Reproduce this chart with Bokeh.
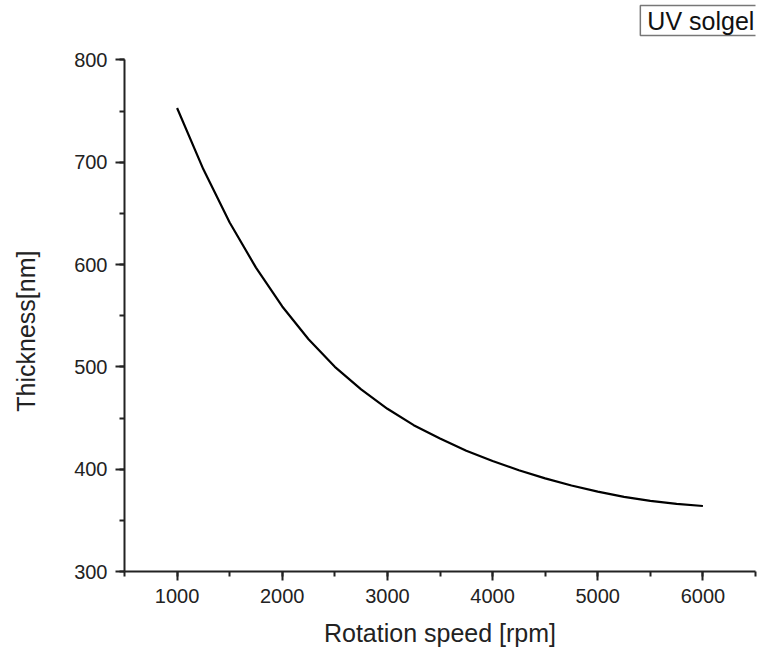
from bokeh.plotting import figure
from bokeh.models import Range1d, SingleIntervalTicker, Label, ColumnDataSource
from bokeh.embed import file_html
from bokeh.resources import INLINE

# Data
rotation_speed = [1000, 1250, 1500, 1750, 2000, 2250, 2500, 2750, 3000, 3250,
                  3500, 3750, 4000, 4250, 4500, 4750, 5000, 5250, 5500, 5750, 6000]
thickness = [753, 693, 641, 597, 559, 527, 500, 478, 459, 443,
             430, 418, 408, 399, 391, 384, 378, 373, 369, 366, 364]
series_name = "UV solgel"
x_label = "Rotation speed [rpm]"
y_label = "Thickness[nm]"

FONT = "Liberation Sans"

# y range extends above 800 so the series box fits at the top; axis bounded to 300-800
p = figure(width=763, height=651, output_backend="svg", toolbar_location=None,
           x_range=Range1d(500, 6500), y_range=Range1d(300, 858),
           min_border_left=124, min_border_right=8, min_border_top=0, min_border_bottom=80)
p.outline_line_color = None
p.xgrid.visible = False
p.ygrid.visible = False

src = ColumnDataSource(dict(x=rotation_speed, y=thickness))
p.line("x", "y", source=src, line_color="black", line_width=2.2, line_join="round")

p.xaxis.ticker = SingleIntervalTicker(interval=1000, num_minor_ticks=2)
p.yaxis.ticker = SingleIntervalTicker(interval=100, num_minor_ticks=2)
p.yaxis.bounds = (300, 800)

for ax in (p.xaxis[0], p.yaxis[0]):
    ax.axis_line_color = "#222222"
    ax.axis_line_width = 2
    ax.major_tick_line_color = "#222222"
    ax.major_tick_line_width = 2
    ax.minor_tick_line_color = "#222222"
    ax.minor_tick_line_width = 2
    ax.major_tick_out = 9
    ax.major_tick_in = 0
    ax.minor_tick_out = 5
    ax.minor_tick_in = 0
    ax.major_label_text_font = FONT
    ax.major_label_text_font_size = "20px"
    ax.major_label_text_color = "#222222"
    ax.axis_label_text_font = FONT
    ax.axis_label_text_font_size = "25px"
    ax.axis_label_text_font_style = "normal"
    ax.axis_label_text_color = "#222222"

p.xaxis.axis_label = x_label
# trailing non-breaking spaces keep the title centred on the 300-800 span
p.yaxis.axis_label = y_label + "\u00a0" * 13
p.xaxis.major_label_standoff = 8
p.yaxis.major_label_standoff = 8
p.xaxis.axis_label_standoff = 13
p.yaxis.axis_label_standoff = 31

legend_box = Label(x=5405, y=853, x_units="data", y_units="data",
                   text=series_name, text_font=FONT, text_font_size="25px",
                   text_color="#111111", text_baseline="top", text_align="left",
                   border_line_color="#777777", border_line_width=1.5,
                   background_fill_color="white", padding=(7, 1))
p.add_layout(legend_box)

open("out.html", "w").write(file_html(p, INLINE))
